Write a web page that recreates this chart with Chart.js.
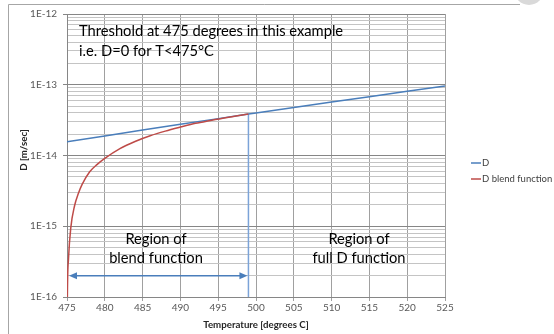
<!DOCTYPE html>
<html>
<head>
<meta charset="utf-8">
<title>D vs temperature</title>
<script src="https://cdn.jsdelivr.net/npm/chart.js@4/dist/chart.umd.min.js"></script>
<style>
body { margin: 0; background: #fff; }
#wrap { position: relative; width: 554px; height: 334px; }
</style>
</head>
<body>
<div id="wrap"><canvas id="dplot"></canvas></div>
<script>
// D (blue)
var tempD = [475, 480, 485, 490, 495, 499, 500, 505, 510, 515, 520, 525];
var valD = [1.56e-14, 1.89e-14, 2.29e-14, 2.76e-14, 3.32e-14, 3.85e-14, 3.98e-14, 4.77e-14, 5.70e-14, 6.79e-14, 8.09e-14, 9.6e-14];

// D blend function (red), zero below 475
var tempBlend = [475, 475.05, 475.2, 475.5, 476, 476.5, 477, 478, 479, 480, 482, 484, 486, 488, 490, 492, 494, 496, 499];
var valBlend = [1e-17, 1.0e-16, 3.5e-16, 9.5e-16, 1.95e-15, 2.9e-15, 3.9e-15, 5.9e-15, 7.5e-15, 9.1e-15, 1.25e-14, 1.58e-14, 1.90e-14, 2.21e-14, 2.52e-14, 2.85e-14, 3.13e-14, 3.42e-14, 3.85e-14];

// vertical marker at the end of the blend region
var tempMark = [499, 499];
var valMark = [1e-16, 3.85e-14];

var arrowFrom = 475, arrowTo = 499, arrowVal = 2e-16;

var yDecades = [1e-16, 1e-15, 1e-14, 1e-13, 1e-12];
var yTickLabels = ['1E-16', '1E-15', '1E-14', '1E-13', '1E-12'];
var seriesNames = ['D', 'D blend function'];

var FONT = 'Lato';

function pts(xs, ys) {
  var out = [];
  for (var i = 0; i < xs.length; i++) out.push({x: xs[i], y: ys[i]});
  return out;
}
function decadeIndex(v) {
  for (var i = 0; i < yDecades.length; i++) {
    if (Math.abs(v / yDecades[i] - 1) < 1e-6) return i;
  }
  return -1;
}

var framePlugin = {
  id: 'frame',
  beforeDraw: function(chart) {
    var c = chart.ctx;
    c.save();
    c.fillStyle = '#fff';
    c.fillRect(0, 0, chart.width, chart.height);
    c.strokeStyle = '#a6a6a6';
    c.lineWidth = 1;
    c.beginPath();
    c.moveTo(520, 4.5); c.lineTo(8.5, 4.5); c.lineTo(8.5, chart.height);
    c.stroke();
    c.fillStyle = '#d9d9d9';
    c.beginPath();
    c.arc(529, -10, 15, 0, Math.PI * 2);
    c.fill();
    c.restore();
  }
};

var notesPlugin = {
  id: 'notes',
  afterDatasetsDraw: function(chart) {
    var c = chart.ctx, a = chart.chartArea;
    var xs = chart.scales.x, ys = chart.scales.y;
    c.save();
    // double arrow over the blend region
    var x1 = xs.getPixelForValue(arrowFrom), x2 = xs.getPixelForValue(arrowTo);
    var yy = ys.getPixelForValue(arrowVal);
    c.strokeStyle = '#4a7ebb';
    c.fillStyle = '#4a7ebb';
    c.lineWidth = 1.5;
    c.beginPath(); c.moveTo(x1 + 6, yy); c.lineTo(x2 - 6, yy); c.stroke();
    c.beginPath(); c.moveTo(x1 + 2, yy); c.lineTo(x1 + 10, yy - 3.5); c.lineTo(x1 + 10, yy + 3.5); c.closePath(); c.fill();
    c.beginPath(); c.moveTo(x2 - 1, yy); c.lineTo(x2 - 9, yy - 3.5); c.lineTo(x2 - 9, yy + 3.5); c.closePath(); c.fill();

    // text boxes
    c.fillStyle = '#000';
    c.font = '14.7px ' + FONT;
    c.textBaseline = 'middle';
    c.textAlign = 'left';
    c.fillText('Threshold at 475 degrees in this example', a.left + 12, a.top + 17);
    c.fillText('i.e. D=0 for T<475\u00B0C', a.left + 12, a.top + 37);
    c.textAlign = 'center';
    c.fillText('Region of', a.left + 89, a.top + 225);
    c.fillText('blend function', a.left + 89, a.top + 244);
    c.fillText('Region of', a.left + 292, a.top + 225);
    c.fillText('full D function', a.left + 292, a.top + 244);

    // axis titles
    c.font = 'bold 9.7px ' + FONT;
    c.fillStyle = '#262626';
    c.fillText('Temperature [degrees C]', (a.left + a.right) / 2, 325);
    c.translate(24, 150);
    c.rotate(-Math.PI / 2);
    c.fillText('D [m/sec]', 0, 0);
    c.restore();

    // legend
    c.save();
    c.font = '9.5px ' + FONT;
    c.fillStyle = '#404040';
    c.textBaseline = 'middle';
    var rows = [163, 179];
    for (var i = 0; i < 2; i++) {
      var ds = chart.data.datasets[i];
      c.strokeStyle = ds.borderColor;
      c.lineWidth = 1.5;
      c.beginPath(); c.moveTo(471, rows[i]); c.lineTo(481, rows[i]); c.stroke();
      c.fillText(seriesNames[i], 482, rows[i]);
    }
    c.restore();
  }
};

new Chart(document.getElementById('dplot'), {
  type: 'line',
  data: {
    datasets: [
      { label: seriesNames[0], data: pts(tempD, valD), borderColor: '#4a7ebb', borderWidth: 1.5,
        pointRadius: 0, tension: 0, order: 2 },
      { label: seriesNames[1], data: pts(tempBlend, valBlend), borderColor: '#be4b48', borderWidth: 1.5,
        pointRadius: 0, cubicInterpolationMode: 'monotone', order: 1, clip: 0 },
      { label: 'mark', data: pts(tempMark, valMark), borderColor: '#7ba3d8', borderWidth: 1.5,
        pointRadius: 0, order: 3 }
    ]
  },
  options: {
    responsive: true,
    maintainAspectRatio: false,
    animation: false,
    layout: { padding: { left: 0, right: 109, top: 14, bottom: 0 } },
    plugins: { legend: { display: false }, tooltip: { enabled: false } },
    scales: {
      x: {
        type: 'linear', min: 475, max: 525,
        afterFit: function(s) { s.height = 37; },
        ticks: { stepSize: 5, color: '#595959', font: { family: FONT, size: 10 }, padding: 1, maxRotation: 0 },
        grid: { color: '#a0a0a0', lineWidth: 1, tickLength: 4, tickColor: '#a0a0a0' },
        border: { color: '#868686' }
      },
      y: {
        type: 'logarithmic', min: 1e-16, max: 1e-12,
        afterFit: function(s) { s.width = 67; },
        afterBuildTicks: function(s) {
          var t = [];
          for (var d = 0; d < yDecades.length; d++) {
            t.push({ value: yDecades[d], major: true });
            if (d < yDecades.length - 1) {
              for (var m = 2; m <= 9; m++) t.push({ value: yDecades[d] * m });
            }
          }
          s.ticks = t;
        },
        ticks: {
          autoSkip: false, color: '#595959', font: { family: FONT, size: 10 }, padding: 6,
          callback: function(v) { var i = decadeIndex(v); return i < 0 ? '' : yTickLabels[i]; }
        },
        grid: {
          tickLength: 4,
          color: function(ctx) { return ctx.tick && decadeIndex(ctx.tick.value) >= 0 ? '#868686' : '#c4c4c4'; },
          tickColor: function(ctx) { return ctx.tick && decadeIndex(ctx.tick.value) >= 0 ? '#868686' : 'rgba(0,0,0,0)'; }
        },
        border: { color: '#868686' }
      }
    }
  },
  plugins: [framePlugin, notesPlugin]
});
</script>
</body>
</html>
